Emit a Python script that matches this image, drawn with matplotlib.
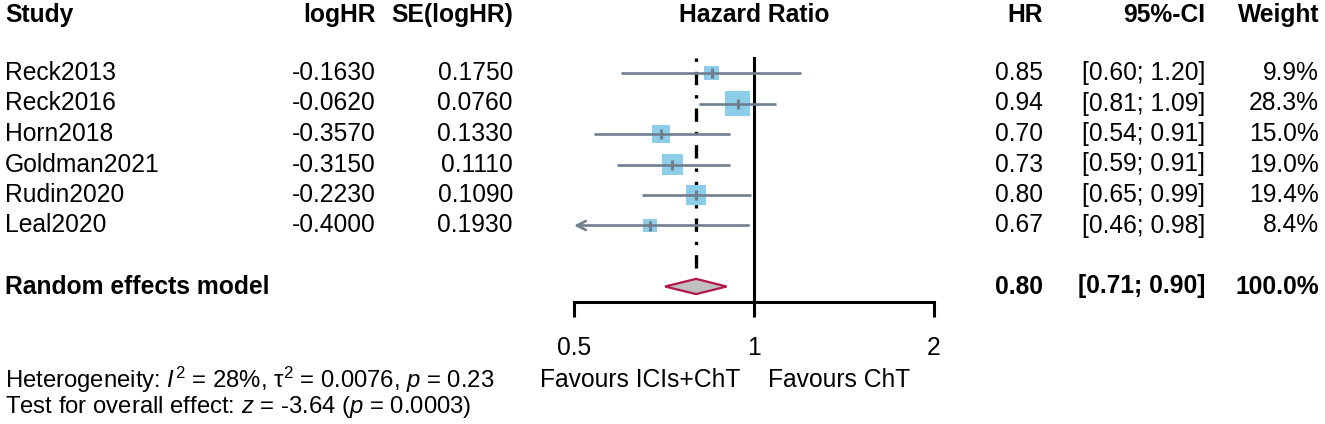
import matplotlib
matplotlib.use("Agg")
import matplotlib.pyplot as plt
import matplotlib.transforms as mtransforms
from matplotlib.patches import Polygon

plt.rcParams['font.family'] = ['Liberation Sans', 'DejaVu Sans']
plt.rcParams['mathtext.fontset'] = 'custom'
plt.rcParams['mathtext.rm'] = 'Liberation Sans'
plt.rcParams['mathtext.it'] = 'Liberation Sans:italic'

# data
studies = ["Reck2013", "Reck2016", "Horn2018", "Goldman2021", "Rudin2020", "Leal2020"]
log_hr = [-0.1630, -0.0620, -0.3570, -0.3150, -0.2230, -0.4000]
se_log_hr = [0.1750, 0.0760, 0.1330, 0.1110, 0.1090, 0.1930]
hr = [0.85, 0.94, 0.70, 0.73, 0.80, 0.67]
ci_lo = [0.60, 0.81, 0.54, 0.59, 0.65, 0.46]
ci_hi = [1.20, 1.09, 0.91, 0.91, 0.99, 0.98]
weights = [9.9, 28.3, 15.0, 19.0, 19.4, 8.4]

pooled_hr = 0.80
pooled_lo = 0.71
pooled_hi = 0.90
pooled_label = "Random effects model"

x_ticks = [0.5, 1, 2]
x_ticklabels = ["0.5", "1", "2"]

W, H = 1325, 424
FS = 17.7
line_col = "#6f7f8f"
box_col = "#8ccdea"

fig = plt.figure(figsize=(W / 100, H / 100), dpi=100)
ax = fig.add_axes([574 / W, 0, 360 / W, 1])
ax.patch.set_alpha(0)

rows = list(range(len(studies)))
pooled_row = len(studies) + 1

# squares sized by weight (area), CI lines over them
sizes = [w / max(weights) * 324 for w in weights]
ax.scatter(hr, rows, s=sizes, marker="s", color=box_col, linewidths=0, zorder=2)
xmin, xmax = x_ticks[0], x_ticks[-1]
for r, lo, hi in zip(rows, ci_lo, ci_hi):
    if lo < xmin:
        ax.annotate("", xy=(xmin, r), xytext=(hi, r),
                    arrowprops=dict(arrowstyle="->", color=line_col, lw=1.9,
                                    shrinkA=0, shrinkB=0, mutation_scale=16),
                    zorder=3)
    else:
        ax.plot([lo, min(hi, xmax)], [r, r], color=line_col, lw=1.9,
                solid_capstyle="butt", zorder=3)
ax.plot(hr, rows, linestyle="none", marker="|", markersize=7, mew=2.2,
        color=line_col, zorder=4)

# reference lines
ax.plot([1, 1], [-0.49, 7.51], color="black", lw=2.2, zorder=1)
ax.plot([pooled_hr, pooled_hr], [-0.49, 6.62], color="black", lw=2.4,
        linestyle=(0, (1, 3, 4, 3)), zorder=1)

# pooled diamond
dh = 0.25
diamond = Polygon([(pooled_lo, pooled_row), (pooled_hr, pooled_row - dh),
                   (pooled_hi, pooled_row), (pooled_hr, pooled_row + dh)],
                  closed=True, facecolor="#c0c0c0", edgecolor="#b3164b",
                  lw=1.6, zorder=3)
ax.add_patch(diamond)

ax.set_xscale("log", base=2)
ax.set_xlim(xmin, xmax)
ax.set_ylim((H - 73) / 30.5, -73 / 30.5)
ax.set_yticks([])
for side in ["top", "left", "right"]:
    ax.spines[side].set_visible(False)
ax.spines["bottom"].set_position(("data", 7.51))
ax.spines["bottom"].set_linewidth(2.2)
ax.set_xticks(x_ticks)
ax.set_xticklabels(x_ticklabels)
ax.xaxis.set_minor_locator(matplotlib.ticker.NullLocator())
ax.tick_params(axis="x", direction="out", length=10.8, width=2.2, pad=14,
               labelsize=FS)

# text columns
tr = mtransforms.blended_transform_factory(fig.transFigure, ax.transData)
hdr = -1.9
bold = dict(fontsize=FS, fontweight="bold", va="center", transform=tr)
ax.text(5 / W, hdr, "Study", ha="left", **bold)
ax.text(376 / W, hdr, "logHR", ha="right", **bold)
ax.text(513 / W, hdr, "SE(logHR)", ha="right", **bold)
ax.text(1, hdr, "Hazard Ratio", ha="center", va="center", fontsize=FS,
        fontweight="bold")
ax.text(1043 / W, hdr, "HR", ha="right", **bold)
ax.text(1205 / W, hdr, "95%-CI", ha="right", **bold)
ax.text(1319 / W, hdr, "Weight", ha="right", **bold)

norm = dict(fontsize=FS, va="center", transform=tr)
for r, name, lh, se, h, lo, hi, w in zip(rows, studies, log_hr, se_log_hr,
                                           hr, ci_lo, ci_hi, weights):
    ax.text(5 / W, r, name, ha="left", **norm)
    ax.text(376 / W, r, f"{lh:.4f}", ha="right", **norm)
    ax.text(513 / W, r, f"{se:.4f}", ha="right", **norm)
    ax.text(1043 / W, r, f"{h:.2f}", ha="right", **norm)
    ax.text(1205 / W, r, f"[{lo:.2f}; {hi:.2f}]", ha="right", **norm)
    ax.text(1319 / W, r, f"{w:.1f}%", ha="right", **norm)

ax.text(5 / W, pooled_row, pooled_label, ha="left", **bold)
ax.text(1043 / W, pooled_row, f"{pooled_hr:.2f}", ha="right", **bold)
ax.text(1205 / W, pooled_row, f"[{pooled_lo:.2f}; {pooled_hi:.2f}]",
        ha="right", **bold)
ax.text(1319 / W, pooled_row, f"{sum(weights):.1f}%", ha="right", **bold)

# favours labels
fav_row = (387 - 73) / 30.5
ax.text(740 / W, fav_row, "Favours ICIs+ChT", ha="right", va="baseline",
        fontsize=FS, transform=tr)
ax.text(768 / W, fav_row, "Favours ChT", ha="left", va="baseline",
        fontsize=FS, transform=tr)

# heterogeneity / overall effect
ax.text(5 / W, (388 - 73) / 30.5,
        r"Heterogeneity: $\mathit{I}^{2}$ = 28%, τ$^{2}$ = 0.0076, $\mathit{p}$ = 0.23",
        ha="left", va="baseline", fontsize=FS - 0.5, transform=tr)
ax.text(5 / W, (413 - 73) / 30.5,
        r"Test for overall effect: $\mathit{z}$ = -3.64 ($\mathit{p}$ = 0.0003)",
        ha="left", va="baseline", fontsize=FS - 0.5, transform=tr)

fig.savefig("out.png", dpi=100)
